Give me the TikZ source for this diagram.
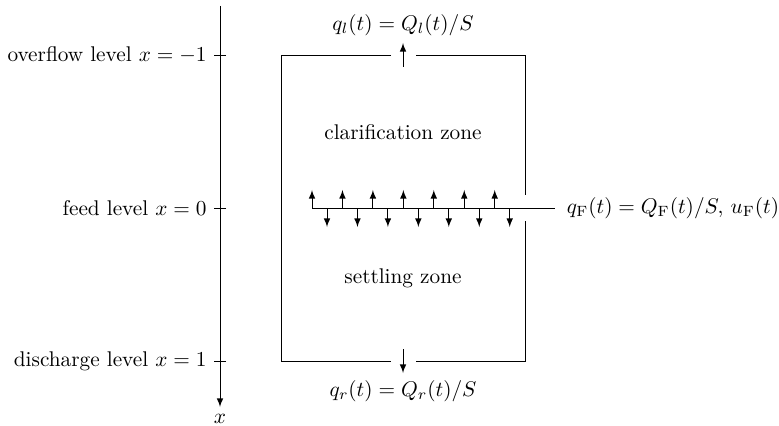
\documentclass[tikz,border=0pt]{standalone}
\usetikzlibrary{arrows}

\tikzset{
  flow/.style={->, >=latex},
  zone/.style={inner sep=0pt}
}

\begin{document}
\begin{tikzpicture}[x=0.47pt, y=-0.47pt]
  \useasboundingbox (0,0) rectangle (779,426);

  % depth axis with the three levels
  \draw[flow] (220,6) -- (220,407) node[below] (xlabel) {$x$};
  \foreach \y/\name/\txt in {55/over/{overflow level $x=-1$},
                            208/feed/{feed level $x=0$},
                            361/disch/{discharge level $x=1$}}
    \draw (226,\y) -- (214,\y) node[left] (\name) {\txt};

  % the vessel
  \draw (391,55) -- (281,55) -- (281,361) -- (391,361);
  \draw (416,55) -- (525,55) -- (525,195);
  \draw (525,221) -- (525,361) -- (416,361);

  \node[zone] (clar) at (403,132) {clarification zone};
  \node[zone] (settle) at (403,278) {settling zone};

  % overflow and underflow
  \draw[flow] (403,67) -- (403,43) node[above] (ql) {$q_l(t) = Q_l(t)/S$};
  \draw[flow] (403,349) -- (403,373) node[below] (qr) {$q_r(t) = Q_r(t)/S$};

  % feed inlet
  \draw (312,208) -- (555,208)
        node[right, xshift=2pt] (qF) {$q_{\mathrm{F}}(t) = Q_{\mathrm{F}}(t)/S,\, u_{\mathrm{F}}(t)$};
  \foreach \i in {0,...,6} {
    \draw[flow] (312+30.45*\i,208) -- (312+30.45*\i,190);
    \draw[flow] (327+30.45*\i,208) -- (327+30.45*\i,227);
  }
\end{tikzpicture}
\end{document}
